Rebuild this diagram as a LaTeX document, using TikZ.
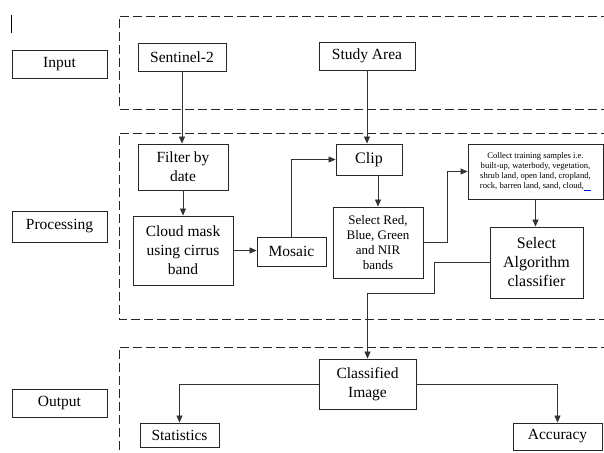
\documentclass[tikz,border=0pt]{standalone}
\usepackage{fontspec}
\setmainfont{Liberation Serif}
\newfontfamily\tnr{Liberation Serif}
\usetikzlibrary{arrows.meta}
\begin{document}
\begin{tikzpicture}[x=1pt,y=-1pt,
  box/.style={draw=black!85,line width=0.9pt,inner sep=0pt,align=center,font=\tnr\fontsize{15.5}{19}\selectfont},
  conn/.style={draw=black!80,line width=0.8pt},
  arr/.style={conn,-{Triangle[length=7pt,width=6pt]}},
  zone/.style={draw=black!85,line width=0.9pt,dash pattern=on 9pt off 4pt}]
\useasboundingbox (0,0) rectangle (604,452);

% stray mark
\draw[line width=1pt] (11,15) -- (11,33);

% dashed zones (open at right)
\draw[zone] (610,16) -- (119,16) -- (119,109) -- (610,109);
\draw[zone] (610,133) -- (119,133) -- (119,319) -- (610,319);
\draw[zone] (610,347) -- (119,347) -- (119,455);

% stage labels
\node[box,minimum width=95pt,minimum height=28pt] (input) at (59.5,64) {Input};
\node[box,minimum width=95pt,minimum height=31pt] (processing) at (59.5,226.5) {Processing};
\node[box,minimum width=95pt,minimum height=28pt] (output) at (59.5,403) {Output};

% input
\node[box,minimum width=88pt,minimum height=28pt] (sentinel) at (182,57) {Sentinel-2};
\node[box,minimum width=96pt,minimum height=28pt] (study) at (367,56) {Study Area};

% processing
\node[box,minimum width=90pt,minimum height=46pt] (filter) at (183,167) {Filter by\\date};
\node[box,minimum width=100pt,minimum height=69pt] (cloud) at (183,250.5) {Cloud mask\\using cirrus\\band};
\node[box,minimum width=69pt,minimum height=29pt] (mosaic) at (291.5,251.5) {Mosaic};
\node[box,minimum width=66pt,minimum height=31pt,font=\tnr\fontsize{16}{19}\selectfont] (clip) at (369,159.5) {Clip};
\node[box,minimum width=90pt,minimum height=71pt,font=\tnr\fontsize{13}{15}\selectfont] (bands) at (378,242.5) {Select Red,\\Blue, Green\\and NIR\\bands};
\node[box,minimum width=135pt,minimum height=55pt,font=\tnr\fontsize{8.6}{10}\selectfont] (collect) at (535.5,171.5)
  {Collect training samples i.e.\\built-up, waterbody, vegetation,\\shrub land, open land, cropland,\\rock, barren land, sand, cloud,{\color{blue}\underline{\hspace{7pt}}}};
\node[box,minimum width=93pt,minimum height=71pt,font=\tnr\fontsize{16}{19}\selectfont] (algo) at (536.5,262.5) {Select\\Algorithm\\classifier};

% output
\node[box,minimum width=97pt,minimum height=50pt] (classified) at (367.5,384) {Classified\\Image};
\node[box,minimum width=79pt,minimum height=24pt] (statistics) at (179.5,435) {Statistics};
\node[box,minimum width=89pt,minimum height=27pt] (accuracy) at (557.5,436.5) {Accuracy};

\coordinate (k1) at (447,0);
\coordinate (k2) at (434,293);

% connectors
\draw[arr] (sentinel.south) -- (sentinel.south |- filter.north);
\draw[arr] (filter.south) -- (filter.south |- cloud.north);
\draw[arr] (cloud.east) -- (cloud.east -| mosaic.west);
\draw[arr] (mosaic.north) |- (clip.west);
\draw[arr] (study.south) -- (study.south |- clip.north);
\draw[arr] (bands.north |- clip.south) -- (bands.north);
\draw[arr] (bands.east) -- (bands.east -| k1) |- (collect.west);
\draw[arr] (collect.south) -- (collect.south |- algo.north);
\draw[arr] (algo.west) -| (k2) -| (classified.north);
\draw[arr] (classified.west) -| (statistics.north);
\draw[arr] (classified.east) -| (accuracy.north);
\end{tikzpicture}
\end{document}
